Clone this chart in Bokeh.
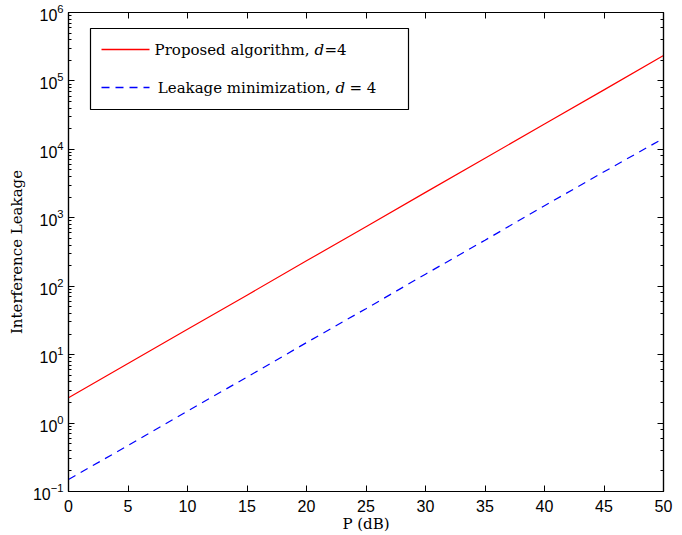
from bokeh.plotting import figure
from bokeh.layouts import row
from bokeh.models import (LogAxis, LinearAxis, FixedTicker, Range1d, Spacer,
                          ColumnDataSource, BoxAnnotation, Arrow, Label)
from bokeh.embed import file_html
from bokeh.resources import INLINE

# data
p_db = [0, 5, 10, 15, 20, 25, 30, 35, 40, 45, 50]
proposed = [2.35, 7.4, 23.5, 74, 235, 740, 2350, 7400, 23500, 74000, 235000]
leakage_min = [0.15, 0.47, 1.5, 4.7, 15, 47, 150, 470, 1500, 4700, 14500]
x_ticks = [0, 5, 10, 15, 20, 25, 30, 35, 40, 45, 50]
label_proposed = ["Proposed algorithm,", "d", "=4"]
label_leak = ["Leakage minimization,", "d", "= 4"]
x_label = "P (dB)"
y_label = "Interference Leakage"

SERIF = "DejaVu Serif"
SANS = "Liberation Sans"
FW, FH = 595, 479

p = figure(frame_width=FW, frame_height=FH, y_axis_type="log",
           x_range=Range1d(0, 50), y_range=Range1d(1e-1, 1e6),
           output_backend="svg", toolbar_location=None,
           min_border_left=10, min_border_right=12, min_border_top=12,
           min_border_bottom=10)
p.background_fill_color = "white"
p.border_fill_color = "white"
p.outline_line_color = "black"
p.outline_line_width = 1.2
p.xgrid.visible = False
p.ygrid.visible = False

src = ColumnDataSource(dict(x=p_db, a=proposed, b=leakage_min))
r1 = p.line("x", "a", source=src, line_color="red", line_width=1.2)
r2 = p.line("x", "b", source=src, line_color="blue", line_width=1.2,
            line_dash="8 6")

def style_axis(ax, labels=True):
    ax.major_tick_in = 6
    ax.major_tick_out = 0
    ax.minor_tick_in = 3
    ax.minor_tick_out = 0
    ax.axis_line_color = "black"
    ax.axis_line_width = 1.2
    ax.major_tick_line_color = "black"
    ax.minor_tick_line_color = "black"
    ax.major_label_text_font = SANS
    ax.major_label_text_font_size = "16px"
    ax.major_label_text_color = "black"
    if not labels:
        ax.major_label_text_font_size = "1px"
        ax.major_label_text_alpha = 0
        ax.major_label_standoff = 0

xa = p.xaxis[0]
xa.ticker = FixedTicker(ticks=x_ticks, minor_ticks=[])
style_axis(xa)
xa.major_label_standoff = 8
xa.axis_label = x_label
xa.axis_label_text_font = SERIF
xa.axis_label_text_font_style = "normal"
xa.axis_label_text_font_size = "15px"
xa.axis_label_text_color = "black"
xa.axis_label_standoff = 0

ya = p.yaxis[0]
style_axis(ya)
ya.ticker.num_minor_ticks = 10
ya.major_label_standoff = 5
ya.axis_label = y_label
ya.axis_label_text_font = SERIF
ya.axis_label_text_font_style = "normal"
ya.axis_label_text_font_size = "15px"
ya.axis_label_text_color = "black"
ya.axis_label_standoff = 4

top = LinearAxis(ticker=FixedTicker(ticks=x_ticks, minor_ticks=[]))
style_axis(top, labels=False)
p.add_layout(top, "above")
right = LogAxis()
style_axis(right, labels=False)
p.add_layout(right, "right")

# legend drawn by hand (screen units relative to the frame, y from bottom)
box = BoxAnnotation(left=22, right=340, top=463, bottom=382,
                    left_units="screen", right_units="screen",
                    top_units="screen", bottom_units="screen",
                    fill_color="white", fill_alpha=1,
                    line_color="black", line_width=1.2, line_alpha=1)
p.add_layout(box)

rows = [(442, "red", "solid", label_proposed, 241, 15),
        (404, "blue", "8 6", label_leak, 262, 19)]
for y, col, dash, parts, xj, dx in rows:
    p.add_layout(Arrow(end=None, x_start=33, y_start=y, x_end=81, y_end=y,
                       start_units="screen", end_units="screen",
                       line_color=col, line_alpha=1.0, line_width=1.3,
                       line_dash=dash))
    common = dict(y=y, x_units="screen", y_units="screen",
                  text_font=SERIF, text_font_size="15px",
                  text_color="black", text_baseline="middle")
    p.add_layout(Label(x=xj, text=parts[0], text_align="right", **common))
    p.add_layout(Label(x=xj + 5, text=parts[1], text_align="left",
                       text_font_style="italic", **common))
    p.add_layout(Label(x=xj + dx, text=parts[2], text_align="left", **common))

layout = row(Spacer(width=4, height=10), p)
open("out.html", "w").write(file_html(layout, INLINE))
